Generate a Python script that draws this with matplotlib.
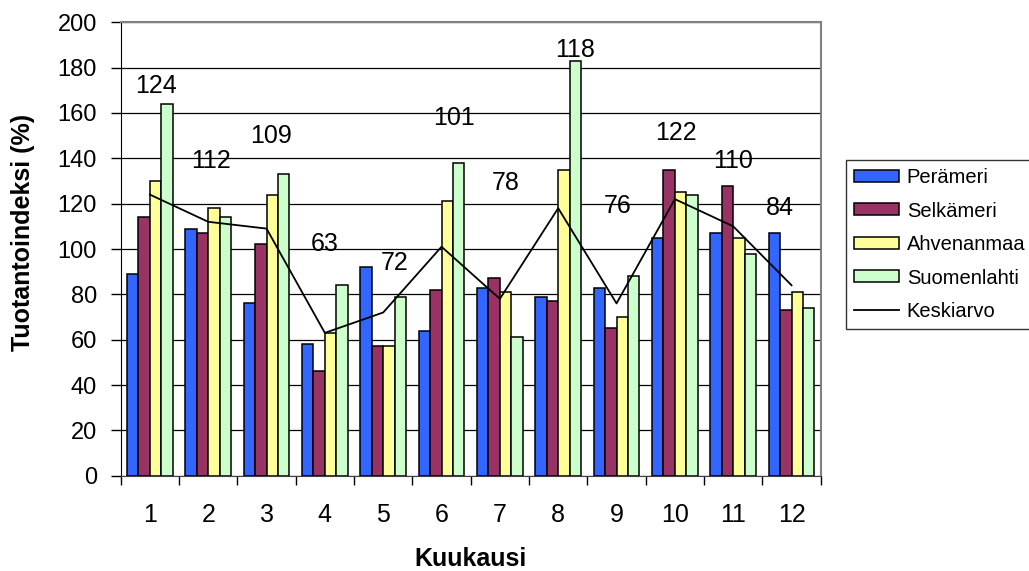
import numpy as np
import matplotlib
matplotlib.use("Agg")
import matplotlib.pyplot as plt
from matplotlib.lines import Line2D

plt.rcParams['font.family'] = ['Liberation Sans', 'DejaVu Sans']

# Data
months = [1, 2, 3, 4, 5, 6, 7, 8, 9, 10, 11, 12]
peramer = [89, 109, 76, 58, 92, 64, 83, 79, 83, 105, 107, 107]
selkameri = [114, 107, 102, 46, 57, 82, 87, 77, 65, 135, 128, 73]
ahvenanmaa = [130, 118, 124, 63, 57, 121, 81, 135, 70, 125, 105, 81]
suomenlahti = [164, 114, 133, 84, 79, 138, 61, 183, 88, 124, 98, 74]
keskiarvo = [124, 112, 109, 63, 72, 101, 78, 118, 76, 122, 110, 84]
# where the average labels sit (hand placed in the original)
label_y = [172, 139, 150, 102, 94, 158, 129, 188, 119, 151, 139, 118]
label_dx = [0.10, 0.04, 0.07, 0.0, 0.2, 0.22, 0.1, 0.29, 0.02, 0.02, 0.0, -0.2]

series = ['Perämeri', 'Selkämeri', 'Ahvenanmaa', 'Suomenlahti']
colors = ['#3366FF', '#993366', '#FFFF99', '#CCFFCC']

fig = plt.figure(figsize=(10.29, 5.71), dpi=100)
ax = fig.add_axes([120.7 / 1029, 1 - 475.7 / 571, 700 / 1029, 453.4 / 571])

x = np.arange(len(months))
w = 0.195
for k, vals in enumerate([peramer, selkameri, ahvenanmaa, suomenlahti]):
    ax.bar(x + (k - 1.5) * w, vals, width=w, color=colors[k],
           edgecolor='black', linewidth=1.1, zorder=3, label=series[k])

ax.plot(x, keskiarvo, color='black', linewidth=1.3, zorder=4)
for i, v in enumerate(keskiarvo):
    ax.text(x[i] + label_dx[i], label_y[i], str(v), ha='center', va='center',
            fontsize=18, zorder=5)

ax.set_xlim(-0.5, 11.5)
ax.set_ylim(0, 200)
ax.set_yticks(np.arange(0, 201, 20))
ax.yaxis.grid(True, color='black', linewidth=0.9, zorder=0)
ax.set_axisbelow(True)

# category ticks at boundaries, labels at centres
ax.set_xticks(np.arange(-0.5, 12, 1))
ax.set_xticklabels([])
ax.set_xticks(x, minor=True)
ax.set_xticklabels([str(m) for m in months], minor=True, fontsize=18)
ax.tick_params(axis='x', which='major', direction='out', length=6.5, width=1)
ax.tick_params(axis='x', which='minor', length=0, pad=20)
ax.tick_params(axis='y', direction='out', length=7, width=1, labelsize=17, pad=10)

for s in ['top', 'right']:
    ax.spines[s].set_color('#808080')
    ax.spines[s].set_linewidth(1.5)
ax.spines['left'].set_color('black')
ax.spines['bottom'].set_color('#404040')

ax.set_ylabel('Tuotantoindeksi (%)', fontsize=18, fontweight='bold')
ax.yaxis.set_label_coords(-0.122, 0.537)
ax.set_xlabel('Kuukausi', fontsize=18, fontweight='bold')
ax.xaxis.set_label_coords(0.5, -0.157)

handles, labels = ax.get_legend_handles_labels()
handles.append(Line2D([0], [0], color='black', linewidth=1.3))
labels.append('Keskiarvo')
leg = fig.legend(handles, labels, loc='upper left',
                 bbox_to_anchor=(846 / 1029, 1 - 160 / 571),
                 fontsize=14.5, frameon=True, fancybox=False, edgecolor='black',
                 handlelength=2.24, handleheight=0.55, handletextpad=0.38,
                 labelspacing=0.72, borderpad=0.4, borderaxespad=0)
leg.get_frame().set_linewidth(1.0)

fig.savefig('out.png', dpi=100)
